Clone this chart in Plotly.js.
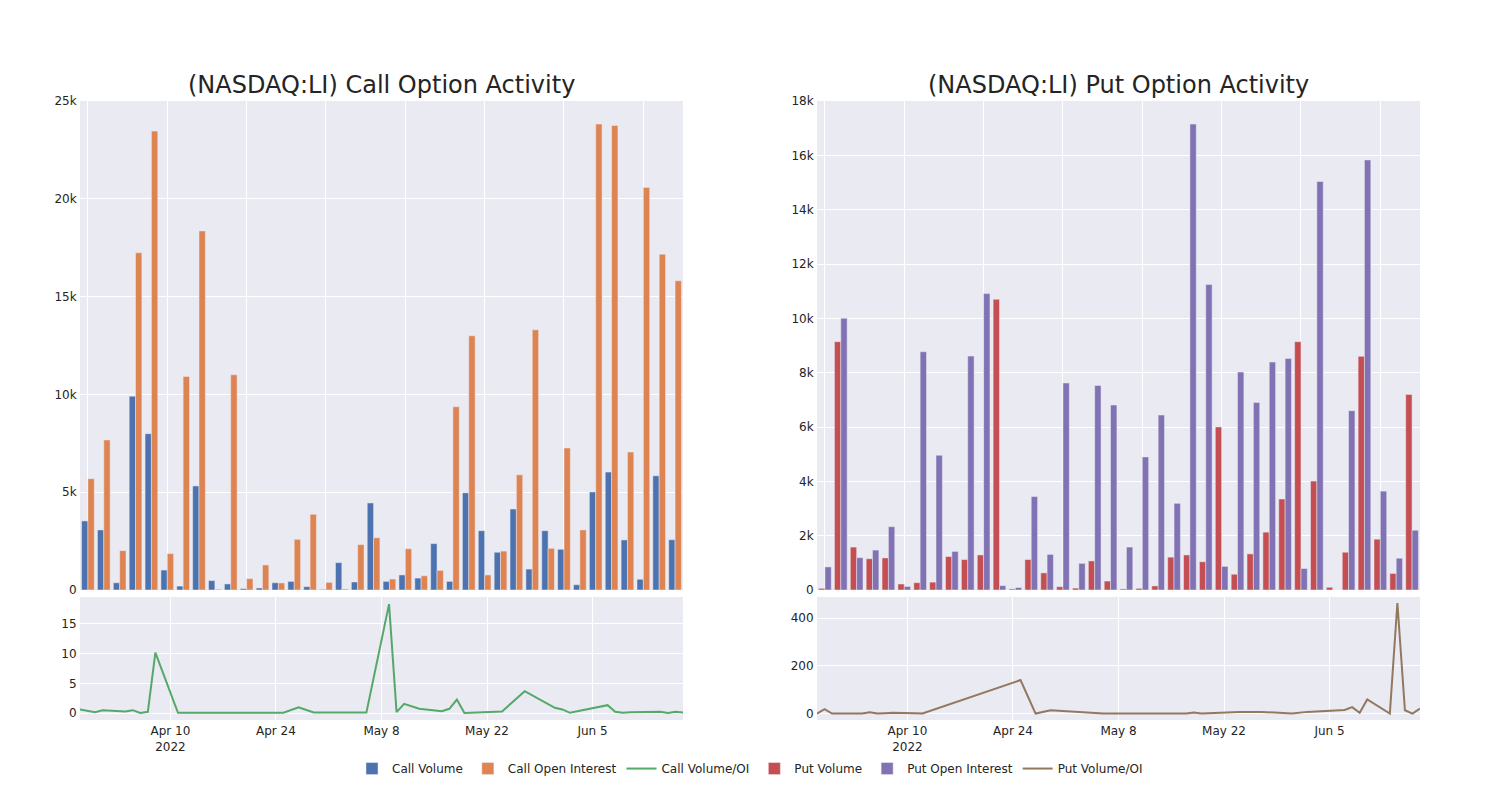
<!DOCTYPE html>
<html>
<head>
<meta charset="utf-8">
<script src="https://cdn.plot.ly/plotly-3.0.1.min.js"></script>
<style>html,body{margin:0;padding:0;background:#fff;}#chart{width:1500px;height:800px;}</style>
</head>
<body>
<div id="chart"></div>
<script>
const dates = ["2022-03-29","2022-03-30","2022-03-31","2022-04-01","2022-04-04","2022-04-05","2022-04-06","2022-04-07","2022-04-08","2022-04-11","2022-04-12","2022-04-25","2022-04-27","2022-04-29","2022-05-04","2022-05-06","2022-05-09","2022-05-10","2022-05-11","2022-05-13","2022-05-16","2022-05-17","2022-05-18","2022-05-19","2022-05-24","2022-05-27","2022-05-31","2022-06-01","2022-06-02","2022-06-07","2022-06-08","2022-06-09","2022-06-10","2022-06-13","2022-06-14","2022-06-15","2022-06-16","2022-06-17"];

const callVolume = [3530,3070,370,9910,7990,1020,200,5320,480,310,70,100,370,440,170,30,1400,410,4450,440,770,610,2370,440,4970,3030,1930,4140,1070,3030,2080,270,5010,6030,2560,550,5840,2570];
const callOpenInterest = [5690,7670,2010,17240,23460,1860,10920,18360,40,11000,580,1280,360,2590,3870,390,50,2320,2670,560,2110,730,1000,9370,13000,770,1990,5890,13300,2130,7260,3070,23820,23750,7050,20580,17170,15810];
const callVolOI = [0.61,0.40,0.17,0.50,0.28,0.50,0.02,0.22,10.17,0.06,0.06,0.06,1.0,0.1,0.1,0.1,18.3,0.17,1.56,0.73,0.34,0.73,2.29,0.02,0.28,3.69,0.9,0.62,0.06,1.34,0.22,0.06,0.17,0.2,0.22,0.02,0.22,0.11];

const putVolume = [60,9140,1580,1150,1180,220,270,290,1230,1120,1290,10700,40,1120,630,120,70,1070,330,40,60,150,1210,1290,1040,6000,580,1330,2130,3350,9140,4010,100,1390,8600,1870,610,7200];
const putOpenInterest = [850,10000,1190,1470,2330,130,8770,4960,1420,8610,10910,160,90,3440,1310,7620,980,7530,6810,1580,4900,6440,3190,17150,11250,870,8020,6900,8390,8520,790,15040,0,6600,15830,3640,1170,2200];
const putVolOI = [0,18,0,0,0,5.5,0,1.5,3,1,0,140,0,14,5,0,0,0,0,0,0,0,4,0,7,7,0,4,7,15,27,3,59,0,463,14,0,21];

const C = ["rgb(76,114,176)","rgb(221,132,82)","rgb(85,168,104)","rgb(196,78,82)","rgb(129,114,179)","rgb(147,120,96)"];
const barLine = {color:"rgb(234,234,242)", width:0.5};

const traces = [
  {type:"bar", name:"Call Volume", x:dates, y:callVolume, xaxis:"x", yaxis:"y", marker:{color:C[0], line:barLine}},
  {type:"bar", name:"Call Open Interest", x:dates, y:callOpenInterest, xaxis:"x", yaxis:"y", marker:{color:C[1], line:barLine}},
  {type:"scatter", mode:"lines", name:"Call Volume/OI", x:dates, y:callVolOI, xaxis:"x3", yaxis:"y3", line:{color:C[2], width:2}},
  {type:"bar", name:"Put Volume", x:dates, y:putVolume, xaxis:"x2", yaxis:"y2", marker:{color:C[3], line:barLine}},
  {type:"bar", name:"Put Open Interest", x:dates, y:putOpenInterest, xaxis:"x2", yaxis:"y2", marker:{color:C[4], line:barLine}},
  {type:"scatter", mode:"lines", name:"Put Volume/OI", x:dates, y:putVolOI, xaxis:"x4", yaxis:"y4", line:{color:C[5], width:2}}
];

const FONT = '"DejaVu Sans", verdana, sans-serif';
const gridAx = {gridcolor:"white", linecolor:"white", zerolinecolor:"white", showgrid:true, ticks:"", tickfont:{family:FONT, size:12, color:"rgb(36,36,36)"}};
const catAx = Object.assign({}, gridAx, {type:"category", tickmode:"linear", tick0:0, dtick:5, showticklabels:false});
const dateAx = Object.assign({}, gridAx, {type:"date"});

const L = 80, R = 80, T = 101, B = 80;
const W = 1500 - L - R, H = 800 - T - B;
const cx0 = [0, (683 - L) / W];
const px0 = [(817 - L) / W, 1];
const barDom = [(720 - 590) / H, 1];
const lineDom = [0, (720 - 597) / H];

const layout = {
  width:1500, height:800,
  margin:{l:L, r:R, t:T, b:B},
  paper_bgcolor:"white", plot_bgcolor:"rgb(234,234,242)",
  font:{family:FONT, size:12, color:"rgb(36,36,36)"},
  barmode:"group", bargap:0.2,
  showlegend:true,
  legend:{orientation:"h", x:0.5, xanchor:"center", y:-0.055, yanchor:"top", font:{family:FONT, size:12}},
  xaxis:Object.assign({}, catAx, {domain:cx0, anchor:"y"}),
  yaxis:Object.assign({}, gridAx, {domain:barDom, anchor:"x", range:[0,25000]}),
  xaxis2:Object.assign({}, catAx, {domain:px0, anchor:"y2"}),
  yaxis2:Object.assign({}, gridAx, {domain:barDom, anchor:"x2", range:[0,18000]}),
  xaxis3:Object.assign({}, dateAx, {domain:cx0, anchor:"y3", range:["2022-03-29","2022-06-17"]}),
  yaxis3:Object.assign({}, gridAx, {domain:lineDom, anchor:"x3", range:[-1.15,19.5]}),
  xaxis4:Object.assign({}, dateAx, {domain:px0, anchor:"y4", range:["2022-03-29","2022-06-17"]}),
  yaxis4:Object.assign({}, gridAx, {domain:lineDom, anchor:"x4", range:[-27,488]}),
  annotations:[
    {text:"(NASDAQ:LI) Call Option Activity", xref:"paper", yref:"paper", x:(cx0[0]+cx0[1])/2, y:1, xanchor:"center", yanchor:"bottom", showarrow:false, font:{family:FONT, size:24, color:"rgb(36,36,36)"}},
    {text:"(NASDAQ:LI) Put Option Activity", xref:"paper", yref:"paper", x:(px0[0]+px0[1])/2, y:1, xanchor:"center", yanchor:"bottom", showarrow:false, font:{family:FONT, size:24, color:"rgb(36,36,36)"}}
  ]
};

Plotly.newPlot("chart", traces, layout, {displayModeBar:false});
</script>
</body>
</html>
